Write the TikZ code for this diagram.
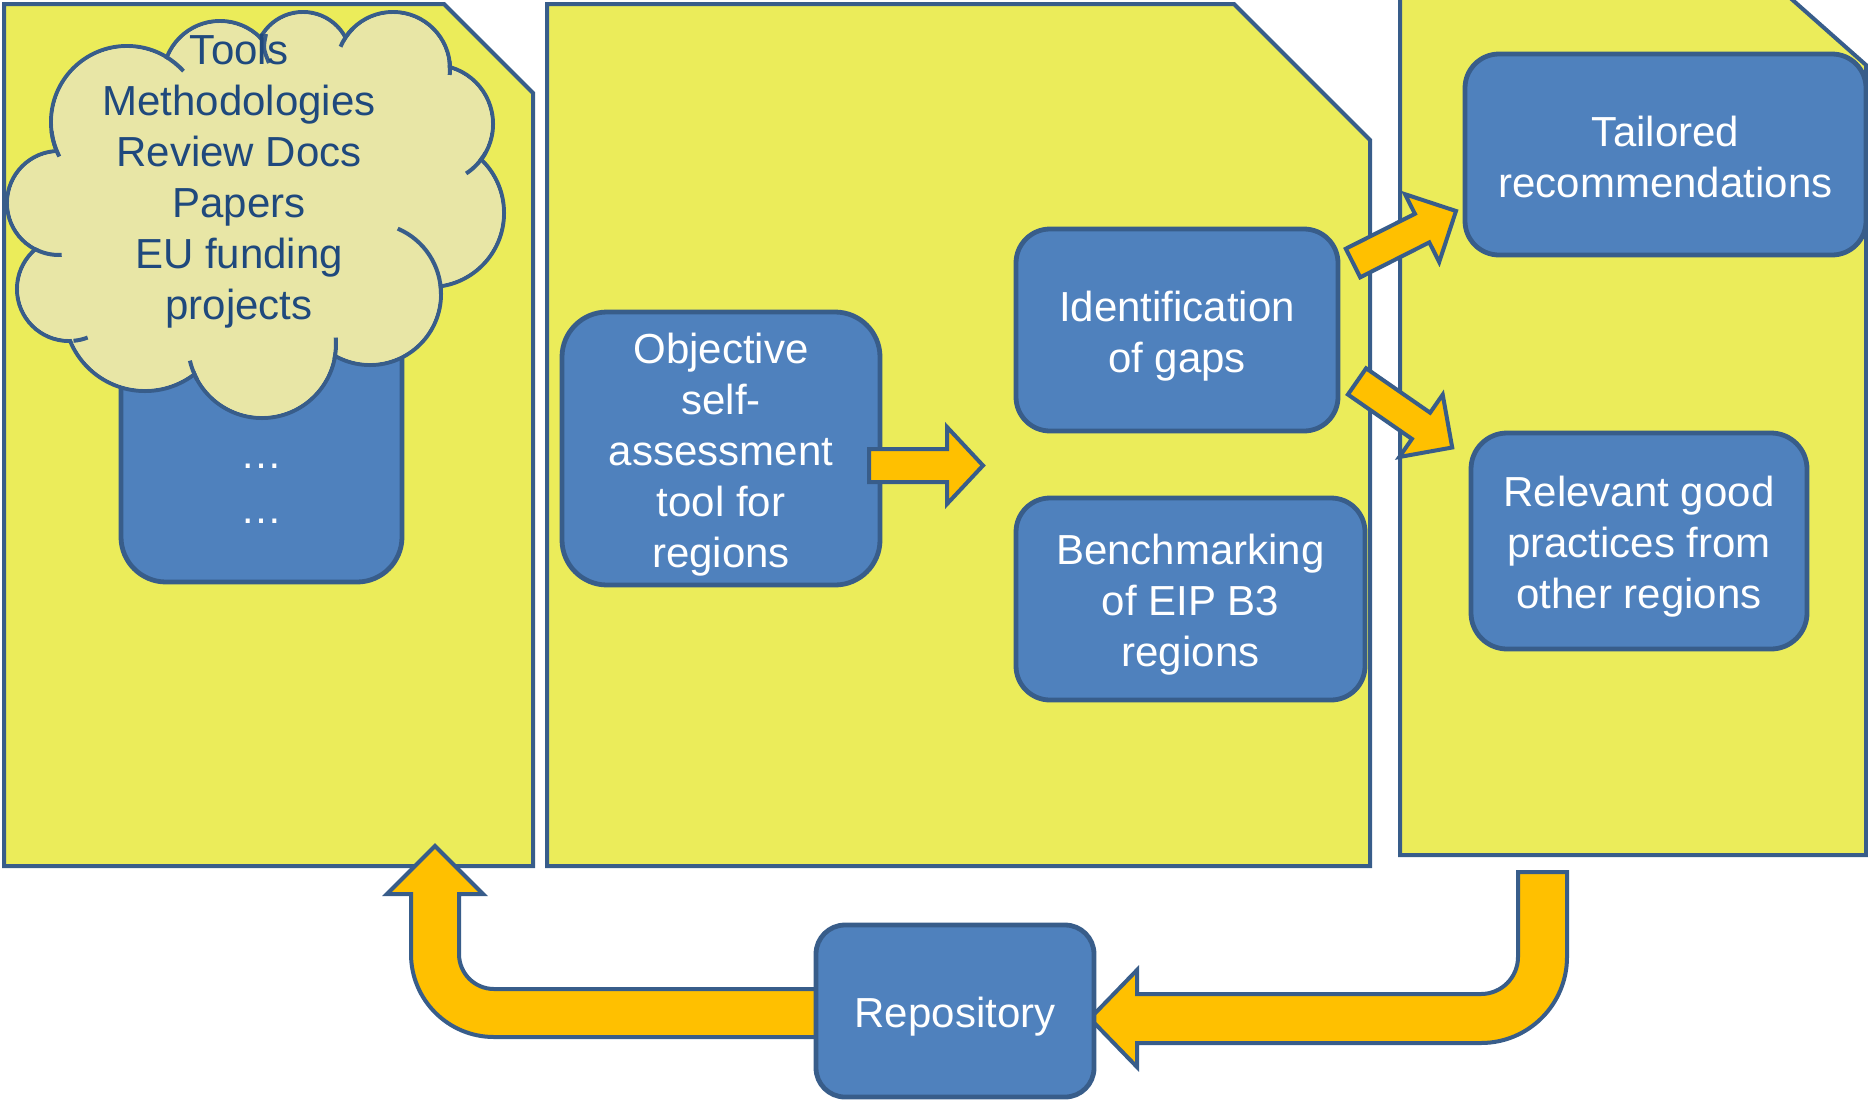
\documentclass[tikz,border=0pt]{standalone}
\usepackage{fontspec}
\setmainfont{Liberation Sans}
\definecolor{panelY}{RGB}{235,236,90}
\definecolor{edgeB}{RGB}{56,93,138}
\definecolor{boxB}{RGB}{79,129,189}
\definecolor{arrowY}{RGB}{255,192,0}
\definecolor{cloudF}{RGB}{232,230,166}
\definecolor{cloudT}{RGB}{31,73,125}
\newcommand\mytopstrut{\rule{0pt}{42pt}}
\begin{document}
\begin{tikzpicture}[x=1pt,y=-1pt,
  panel/.style={fill=panelY,draw=edgeB,line width=4pt,line join=miter},
  bbox/.style={rectangle,rounded corners=#1,fill=boxB,draw=edgeB,line width=4.8pt,
    text=white,align=center,inner sep=0pt,font=\fontsize{42}{51}\selectfont},
  blockarrow/.style={fill=arrowY,draw=edgeB,line width=4pt,line join=miter},
  cloudline/.style={draw=edgeB,line width=4pt},
  cloudtext/.style={text=cloudT,align=center,inner sep=0pt,font=\fontsize{42}{51}\selectfont},
  dotstext/.style={text=white,inner sep=0pt,font=\fontsize{42}{51}\selectfont}]
\clip (0,0) rectangle (1868,1101);
% panels
\draw[panel] (4,4) -- (444,4) -- (533,93) -- (533,866) -- (4,866) -- cycle;
\draw[panel] (547,4) -- (1234,4) -- (1370,140) -- (1370,866) -- (547,866) -- cycle;
\draw[panel] (1400,-20) -- (1770,-20) -- (1866,65) -- (1866,855) -- (1400,855) -- cycle;
% box behind the cloud
\node[bbox=45pt,minimum width=281pt,minimum height=290pt] (tools) at (261.5,437) {};
\node[dotstext,anchor=base] (dotsA) at (261,468) {…};
\node[dotstext,anchor=base] (dotsB) at (261,523) {…};
% cloud
\foreach \cx/\cy/\r in {220/78/57,303/60/48,393/69/57,434/124/59,430/213/74,370/294/71,262/344/74,145/310/81,69/289/52,59/203/52,127/122/76}{
  \filldraw[fill=cloudF,cloudline] (\cx,\cy) circle[radius=\r];
}
\foreach \cx/\cy/\r in {220/78/57,303/60/48,393/69/57,434/124/59,430/213/74,370/294/71,262/344/74,145/310/81,69/289/52,59/203/52,127/122/76}{
  \fill[cloudF] (\cx,\cy) circle[radius=\r-2.2];
}
\fill[cloudF] (220,78) -- (303,60) -- (393,69) -- (434,124) -- (430,213) -- (370,294) -- (262,344) -- (145,310) -- (69,289) -- (59,203) -- (127,122) -- cycle;
\foreach \cx/\cy/\r/\a/\b in {127/122/76/-60/-42, 393/69/57/-157/-135, 393/69/57/-8/6, 434/124/59/29/57, 370/294/71/-67/0, 262/344/74/-5/12, 262/344/74/151/167, 69/289/52/69/85, 59/203/52/87/118, 127/122/76/153/173}{
  \draw[cloudline] (\cx,\cy) ++(\a:\r) arc[start angle=\a,end angle=\b,radius=\r];
}
\draw[cloudline] (266,34) .. controls (263,48) .. (269,63);
\node[cloudtext] (cloudtxt) at (239,181) {Tools\\Methodologies\\Review Docs\\Papers\\EU funding\\projects};
% boxes
\node[bbox=45pt,minimum width=318pt,minimum height=273pt] (objective) at (721,448.5) {\mytopstrut Objective\\self-\\assessment\\tool for\\regions};
\node[bbox=34pt,minimum width=322pt,minimum height=202pt] (ident) at (1177,330) {\mytopstrut Identification\\of gaps};
\node[bbox=34pt,minimum width=349pt,minimum height=202pt] (bench) at (1190.5,599) {\mytopstrut Benchmarking\\of EIP B3\\regions};
\node[bbox=34pt,minimum width=401pt,minimum height=201pt] (tailored) at (1665.5,154.5) {\rule{0pt}{35pt}Tailored\\recommendations};
\node[bbox=36pt,minimum width=336pt,minimum height=216pt] (relevant) at (1639,541) {\mytopstrut Relevant good\\practices from\\other regions};
% block arrows
\draw[blockarrow] (869,449) -- (947,449) -- (947,427) -- (983,465.5) -- (947,504) -- (947,482) -- (869,482) -- cycle;
\draw[blockarrow] (1345.8,248.7) -- (1414.9,213.8) -- (1405,194.2) -- (1456,211) -- (1439.2,262) -- (1429.3,242.4) -- (1360.2,277.3) -- cycle;
\draw[blockarrow] (1366.1,368.3) -- (1430.1,412.7) -- (1442.7,394.6) -- (1452.2,447.5) -- (1399.3,457) -- (1411.9,438.9) -- (1347.9,394.5) -- cycle;
\draw[blockarrow] (830,989) -- (494,989) arc[start angle=90,end angle=180,radius=35] -- (459,894) -- (483,894) -- (435,846) -- (387,894) -- (411,894) -- (411,954) arc[start angle=180,end angle=90,radius=83] -- (830,1037) -- cycle;
\draw[blockarrow] (1518,872) -- (1567,872) -- (1567,957) arc[start angle=0,end angle=90,radius=86] -- (1137,1043) -- (1137,1067) -- (1090,1018.5) -- (1137,970) -- (1137,994) -- (1481,994) arc[start angle=90,end angle=0,radius=37] -- cycle;
% repository
\node[bbox=29pt,minimum width=278pt,minimum height=172pt] (repo) at (955,1011) {\mytopstrut Repository};
\end{tikzpicture}
\end{document}
